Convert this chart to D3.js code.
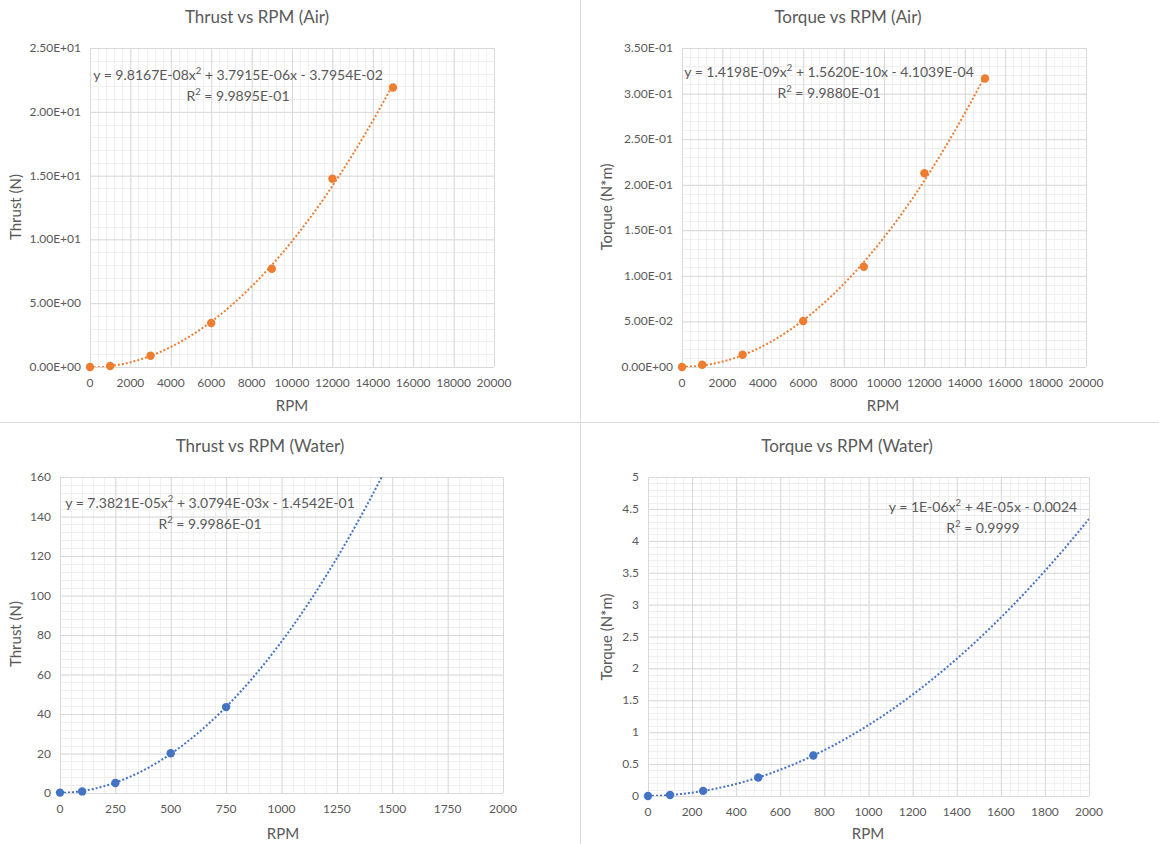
<!DOCTYPE html>
<html>
<head>
<meta charset="utf-8">
<script src="https://cdn.jsdelivr.net/npm/d3@7"></script>
<style>
  body { margin: 0; background: #fff; }
  svg { font-family: Lato, "Open Sans", sans-serif; }
</style>
</head>
<body>
<svg id="chart" width="1159" height="844"></svg>
<script>
// data
const rpmAir = [0, 1000, 3000, 6000, 9000, 12000, 15000];
const thrustAir = [0, 0.08, 0.88, 3.45, 7.7, 14.75, 21.9];
const torqueAir = [0, 0.0025, 0.0135, 0.0505, 0.11, 0.2125, 0.3165];

const rpmWater = [0, 100, 250, 500, 750];
const thrustWater = [0.2, 0.8, 5.1, 20.1, 43.5];
const torqueWater = [0, 0.015, 0.08, 0.29, 0.635];

// axis ticks
const rpmAirTicks = [0, 2000, 4000, 6000, 8000, 10000, 12000, 14000, 16000, 18000, 20000];
const thrustAirTicks = [0, 5, 10, 15, 20, 25];
const torqueAirTicks = [0, 0.05, 0.1, 0.15, 0.2, 0.25, 0.3, 0.35];
const rpmWaterTicksA = [0, 250, 500, 750, 1000, 1250, 1500, 1750, 2000];
const thrustWaterTicks = [0, 20, 40, 60, 80, 100, 120, 140, 160];
const rpmWaterTicksB = [0, 200, 400, 600, 800, 1000, 1200, 1400, 1600, 1800, 2000];
const torqueWaterTicks = [0, 0.5, 1, 1.5, 2, 2.5, 3, 3.5, 4, 4.5, 5];

// trendline labels (as printed in the chart)
const eqThrustAir = ["y = 9.8167E-08x", "2", " + 3.7915E-06x - 3.7954E-02"];
const r2ThrustAir = "9.9895E-01";
const eqTorqueAir = ["y = 1.4198E-09x", "2", " + 1.5620E-10x - 4.1039E-04"];
const r2TorqueAir = "9.9880E-01";
const eqThrustWater = ["y = 7.3821E-05x", "2", " + 3.0794E-03x - 1.4542E-01"];
const r2ThrustWater = "9.9986E-01";
const eqTorqueWater = ["y = 1E-06x", "2", " + 4E-05x - 0.0024"];
const r2TorqueWater = "0.9999";

const ORANGE = "#ED7D31", BLUE = "#4472C4", TEXT = "#595959";

function sci(v) {
    // excel style 2.50E+01
    let s = v.toExponential(2).toUpperCase();
    return s.replace(/E([+-])(\d)$/, "E$10$2");
}

// least squares quadratic, like excel's polynomial trendline
function polyfit2(xs, ys) {
    let n = xs.length, S = [0,0,0,0,0], T = [0,0,0];
    for (let i = 0; i < n; i++) {
        let p = 1;
        for (let k = 0; k < 5; k++) { S[k] += p; if (k < 3) T[k] += p * ys[i]; p *= xs[i]; }
    }
    let M = [[S[0],S[1],S[2],T[0]],[S[1],S[2],S[3],T[1]],[S[2],S[3],S[4],T[2]]];
    for (let i = 0; i < 3; i++) {
        for (let j = i + 1; j < 3; j++) {
            let f = M[j][i] / M[i][i];
            for (let k = i; k < 4; k++) M[j][k] -= f * M[i][k];
        }
    }
    let c = [0,0,0];
    for (let i = 2; i >= 0; i--) {
        let s = M[i][3];
        for (let k = i + 1; k < 3; k++) s -= M[i][k] * c[k];
        c[i] = s / M[i][i];
    }
    return c; // c0 + c1 x + c2 x^2
}

const svg = d3.select("#chart");

// panel dividers
svg.append("line").attr("x1", 580.5).attr("x2", 580.5).attr("y1", 0).attr("y2", 844)
    .attr("stroke", "#d9d9d9").attr("stroke-width", 1);
svg.append("line").attr("x1", 0).attr("x2", 1159).attr("y1", 422.5).attr("y2", 422.5)
    .attr("stroke", "#d9d9d9").attr("stroke-width", 1);

function drawPanel(o) {
    let x = d3.scaleLinear().domain(o.xDomain).range([o.left, o.right]);
    let y = d3.scaleLinear().domain(o.yDomain).range([o.bottom, o.top]);
    let g = svg.append("g");

    // minor grid
    let xStep = (o.xTicks[1] - o.xTicks[0]) / 5, yStep = (o.yTicks[1] - o.yTicks[0]) / 5;
    let xMinor = d3.range(o.xDomain[0], o.xDomain[1] + xStep / 2, xStep);
    let yMinor = d3.range(o.yDomain[0], o.yDomain[1] + yStep / 2, yStep);
    g.selectAll(".vminor").data(xMinor).enter().append("line")
        .attr("x1", d => Math.round(x(d)) + 0.5).attr("x2", d => Math.round(x(d)) + 0.5)
        .attr("y1", o.top).attr("y2", o.bottom)
        .attr("stroke", "#f0f0f0").attr("stroke-width", 1);
    g.selectAll(".hminor").data(yMinor).enter().append("line")
        .attr("y1", d => Math.round(y(d)) + 0.5).attr("y2", d => Math.round(y(d)) + 0.5)
        .attr("x1", o.left).attr("x2", o.right)
        .attr("stroke", "#f0f0f0").attr("stroke-width", 1);

    // major grid via axes
    g.append("g").attr("transform", "translate(0," + o.bottom + ")")
        .call(d3.axisBottom(x).tickValues(o.xTicks).tickSize(-(o.bottom - o.top)).tickFormat(""))
        .call(a => a.select(".domain").remove())
        .call(a => a.selectAll("line").attr("stroke", "#d9d9d9"));
    g.append("g").attr("transform", "translate(" + o.left + ",0)")
        .call(d3.axisLeft(y).tickValues(o.yTicks).tickSize(-(o.right - o.left)).tickFormat(""))
        .call(a => a.select(".domain").remove())
        .call(a => a.selectAll("line").attr("stroke", "#d9d9d9"));

    // tick labels
    g.selectAll(".xl").data(o.xTicks).enter().append("text")
        .attr("x", d => x(d)).attr("y", o.bottom + 20)
        .attr("text-anchor", "middle").attr("font-size", 12).attr("fill", TEXT)
        .text(d => d);
    g.selectAll(".yl").data(o.yTicks).enter().append("text")
        .attr("x", o.left - 9).attr("y", d => y(d) + 4)
        .attr("text-anchor", "end").attr("font-size", 12).attr("fill", TEXT)
        .text(o.yFormat);

    // titles
    g.append("text").attr("x", o.titleX).attr("y", o.titleY)
        .attr("text-anchor", "middle").attr("font-size", 17).attr("fill", TEXT).text(o.title);
    g.append("text").attr("x", o.xTitleX).attr("y", o.xTitleY)
        .attr("text-anchor", "middle").attr("font-size", 15)
        .attr("fill", TEXT).text("RPM");
    g.append("text").attr("transform", "translate(" + o.yTitleX + "," + o.yTitleY + ") rotate(-90)")
        .attr("text-anchor", "middle").attr("font-size", 15)
        .attr("fill", TEXT).text(o.yTitle);

    // trendline
    let c = polyfit2(o.xs, o.ys);
    let clipId = "clip" + o.id;
    svg.append("clipPath").attr("id", clipId).append("rect")
        .attr("x", o.left).attr("y", o.top).attr("width", o.right - o.left).attr("height", o.bottom - o.top);
    let tx = d3.range(0, 201).map(i => o.trendRange[0] + (o.trendRange[1] - o.trendRange[0]) * i / 200);
    g.append("path").datum(tx)
        .attr("clip-path", "url(#" + clipId + ")")
        .attr("d", d3.line().x(d => x(d)).y(d => y(c[0] + c[1] * d + c[2] * d * d)))
        .attr("fill", "none").attr("stroke", o.color).attr("stroke-width", 2)
        .attr("stroke-dasharray", "2,2");

    // markers
    g.selectAll(".pt").data(o.xs).enter().append("circle")
        .attr("cx", d => x(d)).attr("cy", (d, i) => y(o.ys[i]))
        .attr("r", 4.2).attr("fill", o.color);

    // equation label
    let eq = g.append("text").attr("x", o.eqX).attr("y", o.eqY)
        .attr("text-anchor", "middle").attr("font-size", 14).attr("fill", TEXT);
    eq.append("tspan").text(o.eq[0]);
    eq.append("tspan").attr("dy", -6).attr("font-size", 9.5).text(o.eq[1]);
    eq.append("tspan").attr("dy", 6).text(o.eq[2]);
    let r2 = g.append("text").attr("x", o.r2X).attr("y", o.eqY + 21)
        .attr("text-anchor", "middle").attr("font-size", 14).attr("fill", TEXT);
    r2.append("tspan").text("R");
    r2.append("tspan").attr("dy", -6).attr("font-size", 9.5).text("2");
    r2.append("tspan").attr("dy", 6).text(" = " + o.r2);
}

drawPanel({
    id: 1, title: "Thrust vs RPM (Air)", yTitle: "Thrust (N)", color: ORANGE,
    xs: rpmAir, ys: thrustAir, xDomain: [0, 20000], yDomain: [0, 25],
    xTicks: rpmAirTicks, yTicks: thrustAirTicks, yFormat: sci,
    left: 90, right: 494, top: 48, bottom: 367, trendRange: [0, 15000],
    titleX: 257, titleY: 23, xTitleX: 292, xTitleY: 411, yTitleX: 21, yTitleY: 207,
    eq: eqThrustAir, r2: r2ThrustAir, eqX: 238, eqY: 80, r2X: 238
});
drawPanel({
    id: 2, title: "Torque vs RPM (Air)", yTitle: "Torque (N*m)", color: ORANGE,
    xs: rpmAir, ys: torqueAir, xDomain: [0, 20000], yDomain: [0, 0.35],
    xTicks: rpmAirTicks, yTicks: torqueAirTicks, yFormat: sci,
    left: 682, right: 1086, top: 48, bottom: 367, trendRange: [0, 15000],
    titleX: 848, titleY: 23, xTitleX: 883, xTitleY: 411, yTitleX: 612, yTitleY: 207,
    eq: eqTorqueAir, r2: r2TorqueAir, eqX: 829, eqY: 77, r2X: 829
});
drawPanel({
    id: 3, title: "Thrust vs RPM (Water)", yTitle: "Thrust (N)", color: BLUE,
    xs: rpmWater, ys: thrustWater, xDomain: [0, 2000], yDomain: [0, 160],
    xTicks: rpmWaterTicksA, yTicks: thrustWaterTicks, yFormat: d => d,
    left: 60, right: 503, top: 477, bottom: 793, trendRange: [0, 2000],
    titleX: 260, titleY: 452, xTitleX: 283, xTitleY: 839, yTitleX: 21, yTitleY: 634,
    eq: eqThrustWater, r2: r2ThrustWater, eqX: 210, eqY: 508, r2X: 210
});
drawPanel({
    id: 4, title: "Torque vs RPM (Water)", yTitle: "Torque (N*m)", color: BLUE,
    xs: rpmWater, ys: torqueWater, xDomain: [0, 2000], yDomain: [0, 5],
    xTicks: rpmWaterTicksB, yTicks: torqueWaterTicks, yFormat: d => d,
    left: 648, right: 1089, top: 477, bottom: 796, trendRange: [0, 2000],
    titleX: 847, titleY: 452, xTitleX: 868, xTitleY: 839, yTitleX: 612, yTitleY: 637,
    eq: eqTorqueWater, r2: r2TorqueWater, eqX: 983, eqY: 512, r2X: 983
});
</script>
</body>
</html>
